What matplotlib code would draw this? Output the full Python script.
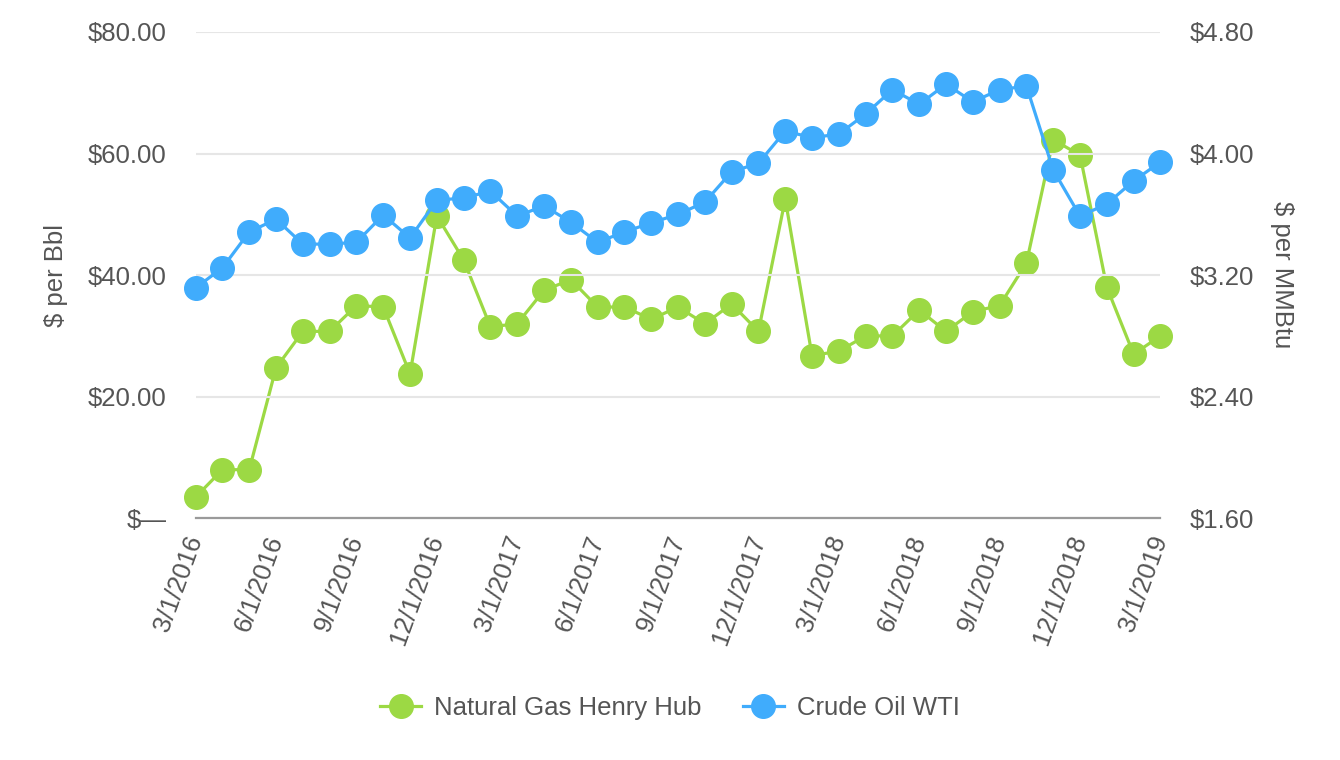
import numpy as np
import pandas as pd
import matplotlib
matplotlib.use('Agg')
import matplotlib.pyplot as plt

plt.rcParams['font.family'] = ['Liberation Sans', 'DejaVu Sans']

# Monthly dates, 3/1/2016 .. 3/1/2019
dates = pd.date_range('2016-03-01', '2019-03-01', freq='MS')

# Crude Oil WTI, $ per Bbl (left axis)
oil = [37.9, 41.2, 47.1, 49.2, 45.1, 45.1, 45.4, 49.9, 46.1, 52.3,
       52.7, 53.8, 49.7, 51.4, 48.7, 45.4, 47.1, 48.6, 50.0, 52.0,
       57.0, 58.4, 63.7, 62.6, 63.2, 66.5, 70.5, 68.1, 71.4, 68.5,
       70.5, 71.1, 57.3, 49.7, 51.7, 55.5, 58.6]

# Natural Gas Henry Hub, $ per MMBtu (right axis)
gas = [1.74, 1.92, 1.92, 2.59, 2.83, 2.83, 3.00, 2.99, 2.55, 3.59,
       3.30, 2.86, 2.88, 3.10, 3.17, 2.99, 2.99, 2.91, 2.99, 2.88,
       3.01, 2.83, 3.70, 2.67, 2.70, 2.80, 2.80, 2.97, 2.83, 2.96,
       3.00, 3.28, 4.09, 3.99, 3.12, 2.68, 2.80]

left_ticks = [0, 20, 40, 60, 80]
right_ticks = [1.60, 2.40, 3.20, 4.00, 4.80]
tick_every = 3

green = '#9cd944'
blue = '#40acfc'
txt = '#555555'

x = np.arange(len(dates))
labels = [f'{d.month}/{d.day}/{d.year}' for d in dates]

fig = plt.figure(figsize=(13.4, 7.6), dpi=100)
ax = fig.add_axes([0.146, 0.318, 0.72, 0.64])
ax2 = ax.twinx()

# oil on the host axis, drawn above gas
ax.set_zorder(ax2.get_zorder() + 1)
ax.patch.set_visible(False)

l_gas, = ax2.plot(x, gas, color=green, lw=2.3, marker='o', ms=17,
                  clip_on=False, label='Natural Gas Henry Hub')
l_oil, = ax.plot(x, oil, color=blue, lw=2.3, marker='o', ms=17,
                 clip_on=False, label='Crude Oil WTI')

ax.set_xlim(0, len(x) - 1)
ax.set_ylim(0, 80)
ax2.set_ylim(1.6, 4.8)

ax.set_yticks(left_ticks)
ax.set_yticklabels(['$—' if v == 0 else f'${v:.2f}' for v in left_ticks])
ax2.set_yticks(right_ticks)
ax2.set_yticklabels([f'${v:.2f}' for v in right_ticks])

ax.set_xticks(x[::tick_every])
ax.set_xticklabels(labels[::tick_every], rotation=70, ha='right', va='center',
                   rotation_mode='anchor')

for a in (ax, ax2):
    for s in a.spines.values():
        s.set_visible(False)
    a.tick_params(length=0, colors=txt, labelsize=18.5)
ax.tick_params(axis='y', pad=21)
ax2.tick_params(axis='y', pad=21)
ax.tick_params(axis='x', pad=13)

ax.spines['bottom'].set_visible(True)
ax.spines['bottom'].set_color('#9a9a9a')
ax.spines['bottom'].set_linewidth(1.6)

ax.grid(axis='y', color='#e6e6e6', lw=1.5)
ax.set_axisbelow(True)

ax.set_ylabel('$ per Bbl', color=txt, fontsize=18.5, labelpad=14)
ax2.set_ylabel('$ per MMBtu', color=txt, fontsize=18.5, rotation=-90, labelpad=29)

fig.legend(handles=[l_gas, l_oil], loc='center', bbox_to_anchor=(0.5, 0.068),
           ncol=2, frameon=False, fontsize=18.5, labelcolor=txt,
           handlelength=1.6, handletextpad=0.5, columnspacing=1.6)

plt.savefig('out.png', dpi=100)
